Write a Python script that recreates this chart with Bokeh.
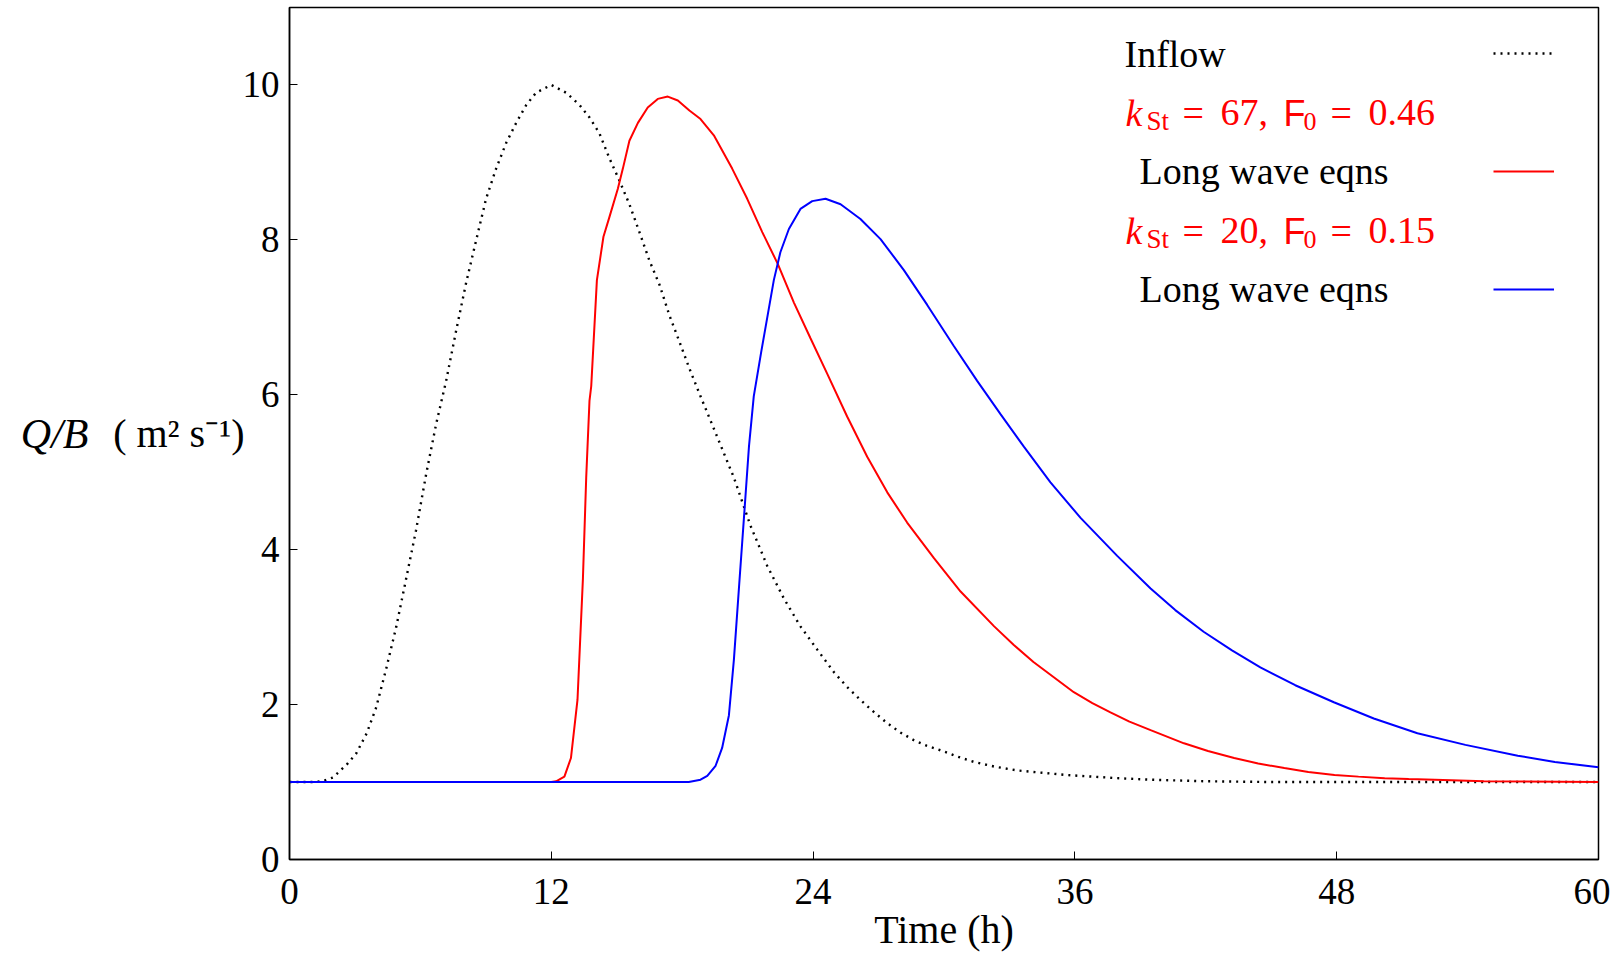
from bokeh.plotting import figure
from bokeh.models import Range1d, Label, Legend, LegendItem, LinearAxis, FixedTicker
from bokeh.embed import file_html
from bokeh.resources import INLINE

# ---------------- data ----------------
inflow_t = [0.0, 1.0, 1.5, 2.0, 2.67, 3.06, 3.54, 3.97, 4.43, 4.89, 5.35, 5.8, 6.26, 6.72,
            7.18, 7.64, 8.1, 8.56, 9.01, 9.47, 9.93, 10.39, 10.85, 11.3, 12.0, 12.68, 13.3,
            13.75, 14.2, 14.67, 15.13, 15.58, 16.04, 16.5, 16.96, 17.42, 17.88, 18.33, 18.84,
            19.6, 20.37, 21.13, 21.9, 22.66, 23.42, 24.19, 24.95, 25.55, 26.17, 26.8, 27.4,
            28.0, 28.62, 29.2, 29.84, 30.6, 31.37, 32.3, 33.35, 34.5, 35.65, 36.8, 37.94,
            39.47, 42.0, 45.0, 50.0, 55.0, 60.0]
inflow_q = [1.0, 1.0, 1.01, 1.06, 1.24, 1.37, 1.63, 1.96, 2.46, 3.0, 3.63, 4.25, 4.97, 5.62,
            6.18, 6.83, 7.45, 8.0, 8.53, 8.92, 9.25, 9.51, 9.74, 9.9, 10.0, 9.9, 9.74,
            9.58, 9.38, 9.05, 8.76, 8.46, 8.1, 7.73, 7.42, 7.02, 6.68, 6.34, 5.98,
            5.46, 4.93, 4.31, 3.79, 3.37, 3.01, 2.71, 2.42, 2.23, 2.06, 1.9, 1.76,
            1.64, 1.54, 1.47, 1.41, 1.33, 1.26, 1.2, 1.15, 1.12, 1.09, 1.07, 1.05,
            1.03, 1.01, 1.0, 1.0, 1.0, 1.0]

red_t = [0.0, 6.0, 12.0, 12.22, 12.6, 12.9, 13.2, 13.45, 13.6, 13.75, 13.83, 14.09, 14.39,
         14.67, 15.05, 15.28, 15.58, 15.97, 16.42, 16.88, 17.34, 17.8, 18.33, 18.84, 19.45,
         20.29, 20.98, 21.67, 22.38, 23.12, 23.88, 24.65, 25.56, 26.48, 27.4, 28.31, 29.54,
         30.76, 32.3, 33.2, 34.1, 35.95, 36.8, 37.63, 38.5, 39.47, 41.0, 42.1, 43.3, 44.4,
         45.6, 46.7, 47.9, 49.0, 50.2, 51.3, 52.5, 54.75, 60.0]
red_q = [1.0, 1.0, 1.0, 1.01, 1.07, 1.31, 2.06, 3.63, 4.93, 5.92, 6.11, 7.48, 8.04,
         8.3, 8.66, 8.92, 9.28, 9.51, 9.71, 9.82, 9.85, 9.8, 9.67, 9.56, 9.35,
         8.92, 8.53, 8.1, 7.69, 7.19, 6.73, 6.27, 5.72, 5.2, 4.74, 4.35, 3.89,
         3.46, 3.01, 2.77, 2.55, 2.16, 2.02, 1.9, 1.78, 1.67, 1.5, 1.4, 1.31, 1.24,
         1.18, 1.13, 1.09, 1.07, 1.05, 1.04, 1.03, 1.01, 1.0]

blue_t = [0.0, 9.0, 18.3, 18.84, 19.15, 19.53, 19.83, 20.14, 20.37, 20.6, 20.83, 21.06, 21.28,
          21.62, 21.9, 22.2, 22.5, 22.89, 23.42, 23.96, 24.57, 25.26, 26.17, 27.09, 28.16,
          29.23, 30.45, 31.52, 32.59, 33.66, 34.88, 36.26, 37.94, 39.47, 40.6, 41.9, 43.2,
          44.5, 46.1, 47.87, 49.7, 51.7, 53.9, 56.3, 58.0, 60.0]
blue_q = [1.0, 1.0, 1.0, 1.03, 1.08, 1.21, 1.44, 1.86, 2.58, 3.5, 4.41, 5.33, 5.98,
          6.55, 7.0, 7.48, 7.84, 8.14, 8.4, 8.5, 8.53, 8.46, 8.27, 8.01, 7.61,
          7.16, 6.63, 6.18, 5.75, 5.33, 4.87, 4.41, 3.92, 3.5, 3.22, 2.94, 2.7,
          2.48, 2.25, 2.03, 1.82, 1.63, 1.48, 1.34, 1.26, 1.19]

x_ticks = [0, 12, 24, 36, 48, 60]
y_ticks = [0, 2, 4, 6, 8, 10]

legend_inflow = "Inflow"
legend_model = "Long wave eqns"
case_red = ("67", "0.46")
case_blue = ("20", "0.15")
x_label = "Time (h)"
y_label_var = "Q/B"
y_label_unit = "( m\u00b2 s\u207b\u00b9)"

# ---------------- layout helpers ----------------
SERIF = "Liberation Serif"
SANS = "Liberation Sans"
FRAME_LEFT, FRAME_BOTTOM = 289, 859   # page pixel of the frame's bottom-left corner
BASELINE_FIX = 0.34                   # measured offset of Label baselines (em)


def sx(px):
    return px - FRAME_LEFT


def sy(py):
    return FRAME_BOTTOM - py


p = figure(width=1610, height=955, x_range=Range1d(0, 60), y_range=Range1d(0, 11),
           output_backend="svg", toolbar_location=None,
           min_border_left=289, min_border_right=12, min_border_top=7, min_border_bottom=96,
           background_fill_color="white", border_fill_color="white")

p.grid.grid_line_color = None
p.outline_line_color = "black"
p.outline_line_width = 1.5

p.xaxis.ticker = x_ticks
p.yaxis.ticker = y_ticks
for ax in (p.xaxis, p.yaxis):
    ax.axis_line_color = "black"
    ax.axis_line_width = 1.5
    ax.major_tick_in = 8
    ax.major_tick_out = 0
    ax.major_tick_line_color = "black"
    ax.major_tick_line_width = 1
    ax.minor_tick_line_color = None
    ax.major_label_text_font = SERIF
    ax.major_label_text_font_size = "37px"
    ax.major_label_text_color = "black"
    ax.axis_label_text_font = SERIF
    ax.axis_label_text_font_style = "normal"
    ax.axis_label_text_color = "black"

p.xaxis.major_label_standoff = 19
p.xaxis.axis_label = x_label
p.xaxis.axis_label_text_font_size = "40px"
p.xaxis.axis_label_standoff = 0

# y axis: tick labels + units, then an outer axis carrying the italic Q/B
p.yaxis.major_label_standoff = 10
p.yaxis.axis_label = y_label_unit
p.yaxis.axis_label_orientation = "horizontal"
p.yaxis.axis_label_text_font_size = "40px"
p.yaxis.axis_label_standoff = -5

outer = LinearAxis(ticker=FixedTicker(ticks=[]), axis_line_color=None,
                   major_tick_line_color=None, minor_tick_line_color=None,
                   major_tick_in=0, major_tick_out=0, major_label_standoff=0,
                   axis_label=y_label_var, axis_label_orientation="horizontal",
                   axis_label_text_font=SERIF, axis_label_text_font_style="italic",
                   axis_label_text_font_size="42px", axis_label_text_color="black",
                   axis_label_standoff=22)
p.add_layout(outer, "left")

r_in = p.line(inflow_t, inflow_q, line_color="black", line_width=2.4, line_dash="2 5")
r_red = p.line(red_t, red_q, line_color="#ff0000", line_width=2)
r_blue = p.line(blue_t, blue_q, line_color="#0000ff", line_width=2)


def add_text(text, x_px, y_px, size, font=SERIF, style="normal", color="black", align="left"):
    p.add_layout(Label(x=sx(x_px), y=sy(y_px - BASELINE_FIX * size),
                       x_units="screen", y_units="screen",
                       text=text, text_font=font, text_font_size=f"{size}px",
                       text_font_style=style, text_color=color, text_align=align,
                       text_baseline="alphabetic"))


# legend line samples (to the right of the texts, as in the reference)
leg_common = dict(border_line_color=None, background_fill_alpha=0, padding=0, margin=0,
                  glyph_height=20, glyph_width=61, label_height=20, label_width=0,
                  label_standoff=0, label_text_font_size="1px")
p.add_layout(Legend(items=[LegendItem(label=" ", renderers=[r_in])],
                    location=(sx(1493), sy(63)), spacing=0, **leg_common))
p.add_layout(Legend(items=[LegendItem(label=" ", renderers=[r_red]),
                           LegendItem(label=" ", renderers=[r_blue])],
                    location=(sx(1493), sy(299)), spacing=98, **leg_common))

# legend texts
add_text(legend_inflow, 1124, 66.5, 38)
add_text(legend_model, 1139, 183.5, 38)
add_text(legend_model, 1139, 301, 38)


def add_case(k_val, f_val, base):
    red = "#ff0000"
    add_text("k", 1125, base, 38, style="italic", color=red)
    add_text("St", 1146, base + 5, 27, color=red)
    add_text("=", 1182, base, 38, color=red)
    add_text(k_val + ",", 1220, base, 38, color=red)
    add_text("F", 1283, base, 36, font=SANS, color=red)
    add_text("0", 1303, base + 5, 26, color=red)
    add_text("=", 1330, base, 38, color=red)
    add_text(f_val, 1368, base, 38, color=red)


add_case(case_red[0], case_red[1], 125)
add_case(case_blue[0], case_blue[1], 243)

open("out.html", "w").write(file_html(p, INLINE))
